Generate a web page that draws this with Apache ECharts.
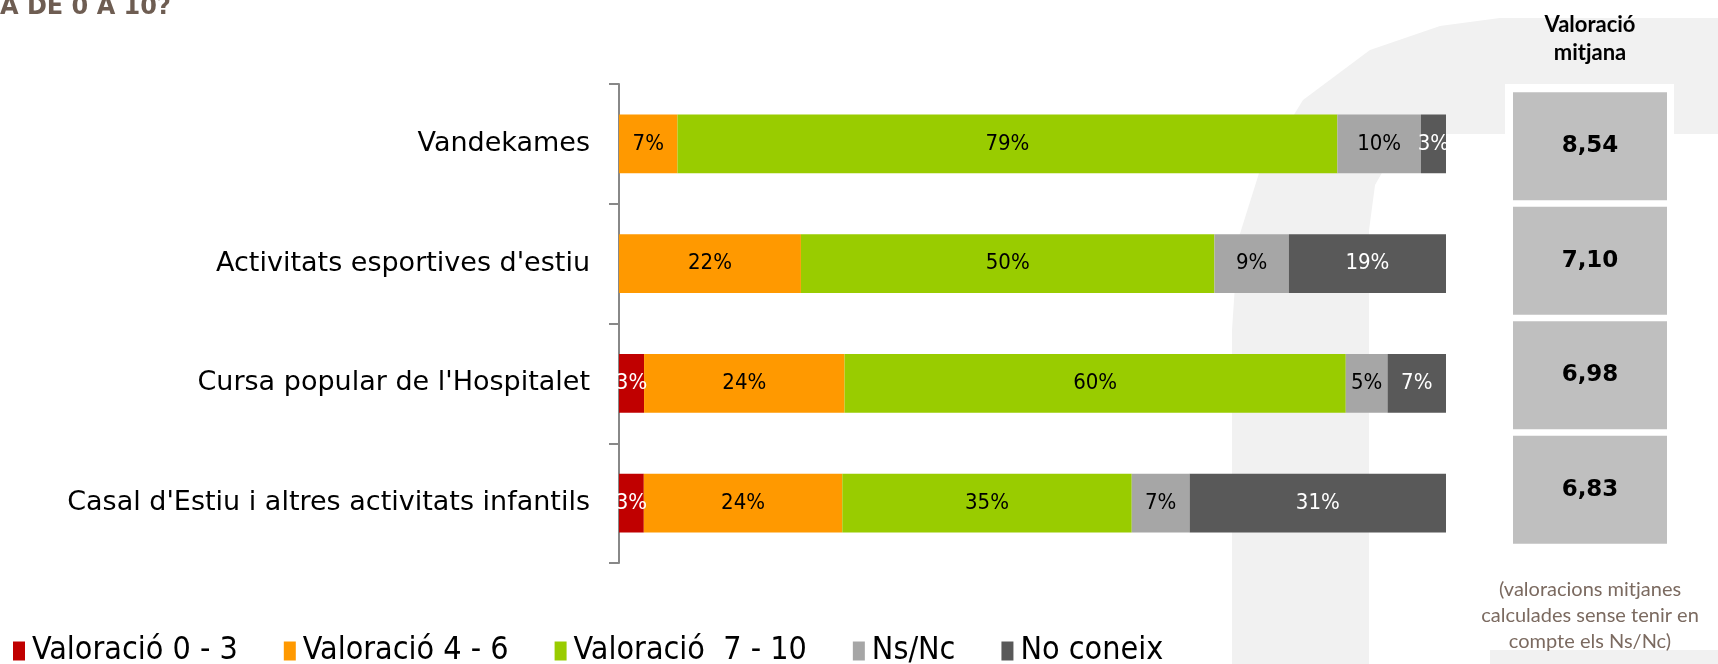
<!DOCTYPE html>
<html>
<head>
<meta charset="utf-8">
<script src="https://cdn.jsdelivr.net/npm/echarts@6/dist/echarts.min.js"></script>
<style>
  html, body { margin: 0; padding: 0; background: #fff; }
  #main { width: 1718px; height: 664px; }
</style>
</head>
<body>
<div id="main"></div>
<script>
// dades
var categories = ['Vandekames', "Activitats esportives d'estiu", "Cursa popular de l'Hospitalet", "Casal d'Estiu i altres activitats infantils"];
var val03 = [0, 0, 3, 3];
var val46 = [7, 22, 24, 24];
var val710 = [79, 50, 60, 35];
var nsnc = [10, 9, 5, 7];
var noConeix = [3, 19, 7, 31];
var mitjana = [8.54, 7.10, 6.98, 6.83];

var seriesNames = ['Valoració 0 - 3', 'Valoració 4 - 6', 'Valoració  7 - 10', 'Ns/Nc', 'No coneix'];
var seriesData = [val03, val46, val710, nsnc, noConeix];
var colors = ['#C00000', '#FF9900', '#99CC00', '#A6A6A6', '#595959'];
var labelColors = ['#fff', '#000', '#000', '#000', '#fff'];

// cada fila es mostra com a 100%
var rowSum = categories.map(function (c, i) {
  return seriesData.reduce(function (s, arr) { return s + arr[i]; }, 0);
});

var chart = echarts.init(document.getElementById('main'));

var series = seriesData.map(function (arr, k) {
  return {
    name: seriesNames[k],
    type: 'bar',
    stack: 'total',
    xAxisIndex: 0,
    yAxisIndex: 0,
    barWidth: '49%',
    itemStyle: { color: colors[k] },
    label: {
      show: true,
      position: 'inside',
      color: labelColors[k],
      fontFamily: 'Liberation Sans Narrow, DejaVu Sans Condensed, sans-serif',
      fontSize: 22,
      formatter: function (p) {
        var v = arr[p.dataIndex];
        return v > 0 ? v + '%' : '';
      }
    },
    data: arr.map(function (v, i) { return v / rowSum[i] * 100; })
  };
});

// caixes de valoració mitjana
series.push({
  name: 'mitjana',
  type: 'bar',
  xAxisIndex: 1,
  yAxisIndex: 1,
  barWidth: 108,
  silent: true,
  itemStyle: { color: '#BFBFBF' },
  label: {
    show: true,
    position: 'inside',
    color: '#000',
    fontWeight: 'bold',
    fontFamily: 'DejaVu Sans, sans-serif',
    fontSize: 23,
    formatter: function (p) {
      return mitjana[p.dataIndex].toFixed(2).replace('.', ',');
    }
  },
  data: mitjana.map(function () { return 1; })
});

var option = {
  backgroundColor: '#fff',
  animation: false,
  graphic: [
    // fons decoratiu (arc gris clar)
    {
      type: 'polygon',
      z: -10,
      shape: {
        points: [[1232, 664], [1232, 330], [1238, 240], [1260, 170], [1303, 100], [1370, 50], [1440, 26], [1500, 18],
          [1718, 18], [1718, 134], [1430, 134], [1395, 150], [1375, 185], [1369, 230], [1369, 664]]
      },
      style: { fill: '#F1F1F1' }
    },
    {
      type: 'rect', z: -10,
      shape: { x: 1490, y: 650, width: 228, height: 14 },
      style: { fill: '#F1F1F1' }
    },
    {
      type: 'rect', z: -9,
      shape: { x: 1505, y: 84, width: 169, height: 470 },
      style: { fill: '#fff' }
    },
    {
      type: 'text',
      left: 0,
      top: -4,
      style: {
        text: 'A DE 0 A 10?',
        fill: '#6E5D52',
        font: 'bold 24px "DejaVu Sans", sans-serif'
      }
    },
    {
      type: 'text',
      x: 1590,
      y: 11,
      style: {
        text: 'Valoració\nmitjana',
        fill: '#000',
        align: 'center',
        font: 'bold 22px Lato, sans-serif',
        lineHeight: 28
      }
    },
    {
      type: 'text',
      x: 1590,
      y: 577,
      style: {
        text: '(valoracions mitjanes\ncalculades sense tenir en\ncompte els Ns/Nc)',
        fill: '#7B6A60',
        align: 'center',
        font: '20px Lato, sans-serif',
        lineHeight: 26
      }
    }
  ],
  legend: {
    left: 13,
    top: 635,
    padding: 0,
    icon: 'rect',
    itemWidth: 12,
    itemHeight: 19,
    itemGap: 46,
    data: seriesNames,
    textStyle: {
      fontFamily: 'Liberation Sans Narrow, DejaVu Sans Condensed, sans-serif',
      fontSize: 32,
      color: '#000',
      padding: [0, 0, 0, 2]
    }
  },
  grid: [
    { left: 619, right: 272, top: 84, bottom: 101 },
    { left: 1513, right: 51, top: 89, bottom: 117 }
  ],
  xAxis: [
    { type: 'value', gridIndex: 0, min: 0, max: 100, show: false },
    { type: 'value', gridIndex: 1, min: 0, max: 1, show: false }
  ],
  yAxis: [
    {
      type: 'category',
      gridIndex: 0,
      inverse: true,
      data: categories,
      axisLine: { lineStyle: { color: '#888', width: 2 } },
      axisTick: { show: true, length: 10, lineStyle: { color: '#888', width: 2 } },
      axisLabel: {
        margin: 29,
        color: '#000',
        fontFamily: 'DejaVu Sans, sans-serif',
        fontSize: 27
      }
    },
    {
      type: 'category',
      gridIndex: 1,
      inverse: true,
      data: categories,
      show: false
    }
  ],
  series: series
};

chart.setOption(option);
</script>
</body>
</html>
